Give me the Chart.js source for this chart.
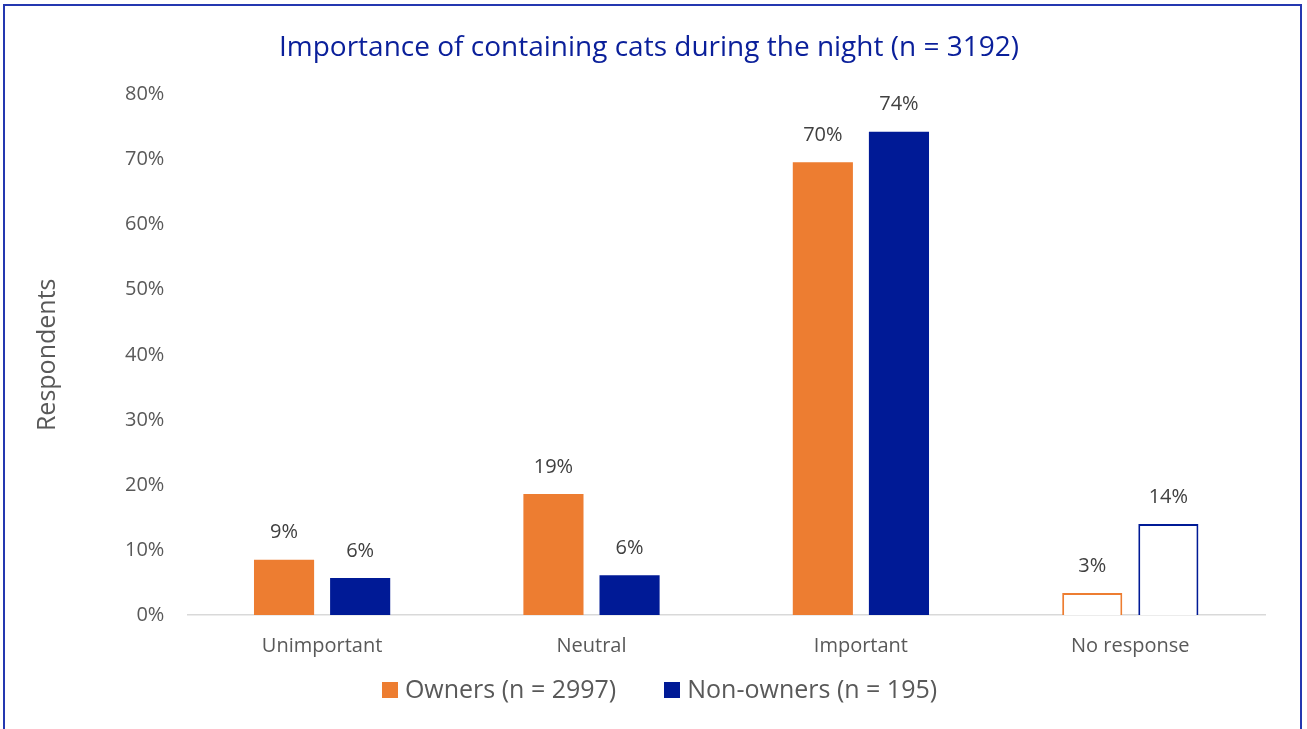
<!DOCTYPE html>
<html>
<head>
<meta charset="utf-8">
<script src="https://cdn.jsdelivr.net/npm/chart.js@4/dist/chart.umd.min.js"></script>
<style>
  html, body { margin: 0; padding: 0; background: #fff; overflow: hidden; }
  #wrap { position: relative; width: 1307px; height: 729px; }
</style>
</head>
<body>
<div id="wrap"><canvas id="c" width="1307" height="729"></canvas></div>
<script>
const categories = ['Unimportant', 'Neutral', 'Important', 'No response'];
const ownersValues = [8.5, 18.6, 69.6, 3.4];
const nonOwnersValues = [5.7, 6.1, 74.3, 14.0];
const seriesLabels = ['Owners (n = 2997)', 'Non-owners (n = 195)'];
const titleText = 'Importance of containing cats during the night (n = 3192)';
const yTicks = [0, 10, 20, 30, 40, 50, 60, 70, 80];

const ORANGE = '#ED7D31';
const NAVY = '#001A96';
const FONT = '"Open Sans", "Liberation Sans", sans-serif';

// "No response" bars are drawn as outlines only
const outlineIndex = categories.indexOf('No response');
function fills(color) {
  return categories.map((_, i) => i === outlineIndex ? '#ffffff' : color);
}
function borders() {
  return categories.map((_, i) => i === outlineIndex ? 2 : 0);
}

// frame around the whole chart
const framePlugin = {
  id: 'frame',
  afterDraw(chart) {
    const ctx = chart.ctx;
    ctx.save();
    ctx.strokeStyle = '#2438B0';
    ctx.lineWidth = 2;
    ctx.strokeRect(4, 5, 1297, 760);
    ctx.restore();
  }
};

// value labels above each bar
const valueLabels = {
  id: 'valueLabels',
  afterDatasetsDraw(chart) {
    const ctx = chart.ctx;
    ctx.save();
    ctx.font = '20px ' + FONT;
    ctx.fillStyle = '#404040';
    ctx.textAlign = 'center';
    ctx.textBaseline = 'middle';
    chart.data.datasets.forEach((ds, di) => {
      chart.getDatasetMeta(di).data.forEach((bar, i) => {
        ctx.fillText(Math.round(ds.data[i]) + '%', bar.x, bar.y - 27);
      });
    });
    ctx.restore();
  }
};

// legend row centred below the axis labels
const legendRow = {
  id: 'legendRow',
  afterDraw(chart) {
    const ctx = chart.ctx;
    const box = 16, gap = 7, itemGap = 48;
    const cy = 690;
    ctx.save();
    ctx.font = '25px ' + FONT;
    ctx.textBaseline = 'middle';
    ctx.textAlign = 'left';
    const items = chart.data.datasets.map((ds, i) => ({
      text: ds.label,
      color: i === 0 ? ORANGE : NAVY,
      w: box + gap + ctx.measureText(ds.label).width
    }));
    const total = items.reduce((s, it) => s + it.w, 0) + itemGap * (items.length - 1);
    let x = chart.width / 2 + 6 - total / 2;
    items.forEach(it => {
      ctx.fillStyle = it.color;
      ctx.fillRect(Math.round(x), cy - box / 2, box, box);
      ctx.fillStyle = '#595959';
      ctx.fillText(it.text, x + box + gap, cy + 1);
      x += it.w + itemGap;
    });
    ctx.restore();
  }
};

new Chart(document.getElementById('c'), {
  type: 'bar',
  data: {
    labels: categories,
    datasets: [
      {
        label: seriesLabels[0],
        data: ownersValues,
        backgroundColor: fills(ORANGE),
        borderColor: ORANGE,
        borderWidth: borders(),
        borderSkipped: 'start'
      },
      {
        label: seriesLabels[1],
        data: nonOwnersValues,
        backgroundColor: fills(NAVY),
        borderColor: NAVY,
        borderWidth: borders(),
        borderSkipped: 'start'
      }
    ]
  },
  options: {
    responsive: false,
    animation: false,
    categoryPercentage: 0.565,
    barPercentage: 0.79,
    layout: { padding: { left: 33, right: 42, top: 15, bottom: 60 } },
    plugins: {
      title: {
        display: true,
        text: titleText,
        color: '#0A1F9A',
        font: { family: FONT, size: 28, weight: 'normal' },
        padding: { top: 16, bottom: 30 }
      },
      legend: { display: false },
      tooltip: { enabled: false }
    },
    scales: {
      x: {
        grid: { display: false },
        border: { display: true, color: '#D9D9D9', width: 1.5 },
        ticks: { color: '#595959', font: { family: FONT, size: 20 }, padding: 11 }
      },
      y: {
        min: 0,
        max: 80,
        afterBuildTicks(axis) { axis.ticks = yTicks.map(v => ({ value: v })); },
        grid: { display: false },
        border: { display: false },
        ticks: {
          color: '#595959',
          font: { family: FONT, size: 20 },
          padding: 15,
          callback: v => v + '%'
        },
        title: {
          display: true,
          text: 'Respondents',
          color: '#595959',
          font: { family: FONT, size: 25 },
          padding: { top: 0, bottom: 47 }
        }
      }
    }
  },
  plugins: [framePlugin, valueLabels, legendRow]
});
</script>
</body>
</html>
